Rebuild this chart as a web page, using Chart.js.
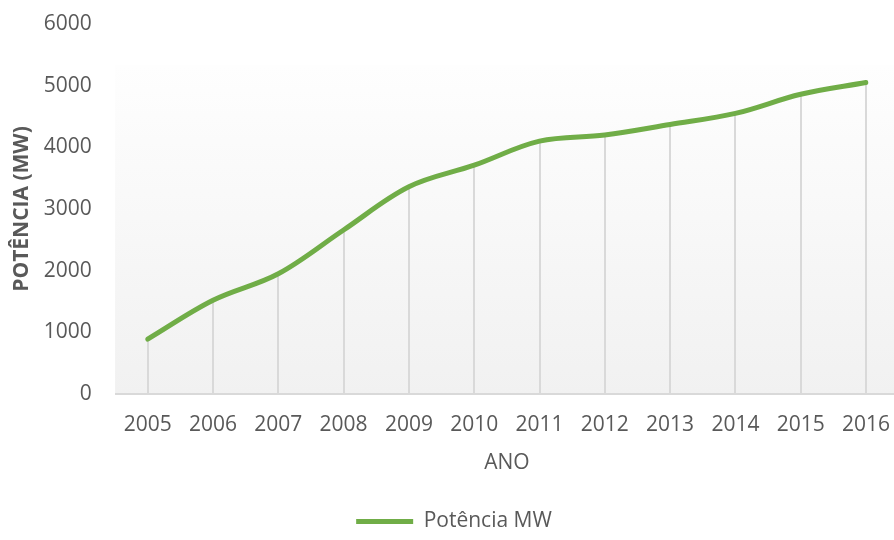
<!DOCTYPE html>
<html>
<head>
<meta charset="utf-8">
<script src="https://cdn.jsdelivr.net/npm/chart.js@4.4.1/dist/chart.umd.min.js"></script>
<style>
  html, body { margin: 0; padding: 0; background: #ffffff; }
  canvas { display: block; }
</style>
</head>
<body>
<canvas id="grafico" width="894" height="540"></canvas>
<script>
// Dados do gráfico
const anos = ['2005', '2006', '2007', '2008', '2009', '2010', '2011', '2012', '2013', '2014', '2015', '2016'];
const potenciaMW = [890, 1520, 1950, 2660, 3360, 3710, 4100, 4200, 4370, 4550, 4860, 5050];
const yMin = 0;
const yMax = 6000;
const yPasso = 1000;

const corLinha = '#70ad47';
const corTexto = '#595959';
const corGrade = '#d9d9d9';
const fonte = "'Open Sans', sans-serif";

// Fundo da área de plotagem, eixo e linhas de queda
const fundoPlot = {
    id: 'fundoPlot',
    beforeDatasetsDraw(chart) {
        const ctx = chart.ctx;
        const x = chart.scales.x;
        const y = chart.scales.y;
        const passo = x.getPixelForValue(1) - x.getPixelForValue(0);
        const esq = x.getPixelForValue(0) - passo / 2;
        const dir = x.getPixelForValue(anos.length - 1) + passo / 2;
        const base = y.getPixelForValue(0);
        const topo = chart.chartArea.top + 41;

        ctx.save();
        const grad = ctx.createLinearGradient(0, topo, 0, base);
        grad.addColorStop(0, '#fefefe');
        grad.addColorStop(1, '#f1f1f1');
        ctx.fillStyle = grad;
        ctx.fillRect(esq, topo, dir - esq, base - topo);

        // linhas verticais de cada ponto até o eixo
        ctx.strokeStyle = corGrade;
        ctx.lineWidth = 2;
        const meta = chart.getDatasetMeta(0);
        meta.data.forEach(p => {
            ctx.beginPath();
            ctx.moveTo(Math.round(p.x), p.y);
            ctx.lineTo(Math.round(p.x), base);
            ctx.stroke();
        });

        // eixo horizontal
        ctx.beginPath();
        ctx.moveTo(esq, base);
        ctx.lineTo(dir, base);
        ctx.stroke();
        ctx.restore();
    }
};

new Chart(document.getElementById('grafico'), {
    type: 'line',
    data: {
        labels: anos,
        datasets: [{
            label: 'Potência MW',
            data: potenciaMW,
            borderColor: corLinha,
            backgroundColor: corLinha,
            borderWidth: 5,
            borderCapStyle: 'round',
            borderJoinStyle: 'round',
            tension: 0.35,
            pointRadius: 0,
            pointHoverRadius: 0,
            fill: false
        }]
    },
    options: {
        responsive: false,
        animation: false,
        layout: {
            padding: { left: 14, right: 0, top: 24, bottom: -2 }
        },
        plugins: {
            tooltip: { enabled: false },
            legend: {
                position: 'bottom',
                labels: {
                    usePointStyle: true,
                    pointStyle: 'line',
                    pointStyleWidth: 57,
                    boxHeight: 5,
                    padding: 0,
                    color: corTexto,
                    font: { family: fonte, size: 21 }
                }
            }
        },
        scales: {
            x: {
                offset: false,
                grid: { display: false, drawTicks: true, tickLength: 16 },
                border: { display: false },
                ticks: {
                    color: corTexto,
                    padding: 2,
                    maxRotation: 0,
                    autoSkip: false,
                    font: { family: fonte, size: 21 }
                },
                title: {
                    display: true,
                    text: 'ANO',
                    color: corTexto,
                    padding: { top: 0, bottom: 35 },
                    font: { family: fonte, size: 21 }
                },
                afterFit(scale) { scale.height = 117; }
            },
            y: {
                min: yMin,
                max: yMax,
                grid: { display: false, drawTicks: true, tickLength: 50 },
                border: { display: false },
                ticks: {
                    stepSize: yPasso,
                    color: corTexto,
                    padding: 6,
                    font: { family: fonte, size: 21 },
                    callback: v => String(v)
                },
                title: {
                    display: true,
                    text: 'POTÊNCIA (MW)',
                    color: corTexto,
                    padding: { top: -2, bottom: 0 },
                    font: { family: fonte, size: 21, weight: 'bold', lineHeight: 1 }
                },
                afterFit(scale) { scale.width = 133.7; }
            },
            // eixo vazio à direita, só para reservar espaço
            direita: {
                position: 'right',
                display: true,
                grid: { display: false, drawTicks: false },
                border: { display: false },
                ticks: { display: false },
                afterFit(scale) { scale.width = 28; }
            }
        }
    },
    plugins: [fundoPlot]
});
</script>
</body>
</html>
